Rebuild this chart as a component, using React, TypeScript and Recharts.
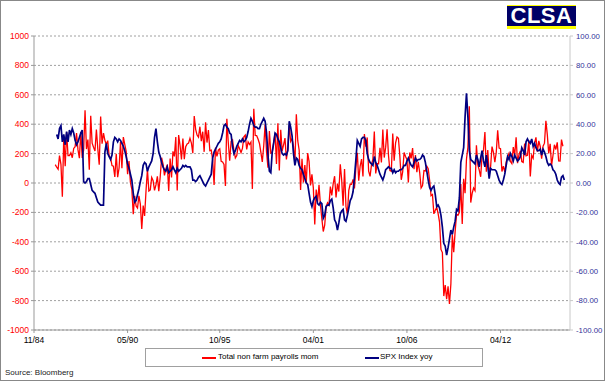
import { CartesianGrid, Line, LineChart, XAxis, YAxis } from 'recharts'

// month slots counted from 11/84; payrolls start Jan 1986
const payrollsStart = 15
const payrolls = [
  125, 107, 94, 187, 127, -94, 318, 114, 347, 186, 186, 205,
  172, 235, 247, 339, 227, 169, 347, 171, 225, 495, 231, 296,
  91, 457, 271, 243, 218, 364, 232, 124, 452, 268, 339, 290,
  263, 288, 183, 171, 119, 115, 41, 199, 40, 102, 279, 100,
  312, 263, 216, 60, 149, 4, -44, -213, -88, -156, -170, -87,
  -143, -313, -154, -224, -53, 92, -54, -47, 38, 16, -50, -13,
  45, -56, 41, 172, 128, 52, 96, 125, -54, 166, 38, 215,
  181, 312, -51, 326, 255, 161, 302, 162, 247, 266, 271, 304,
  272, 203, 456, 365, 326, 312, 383, 285, 349, 212, 413, 275,
  360, 220, 224, 159, -14, 240, 181, 224, 233, 148, 143, 126,
  -20, 437, 277, 151, 284, 293, 223, 171, 187, 256, 233, 207,
  235, 314, 326, 229, 280, 262, 279, -40, 505, 324, 323, 299,
  269, 209, 144, 252, 400, 209, 104, 354, 203, 207, 277, 338,
  129, 406, 86, 362, 219, 260, 305, 160, 234, 393, 283, 301,
  247, 133, 467, 288, 223, -47, 164, 4, 122, 1, 204, 145,
  -16, 59, -33, -282, -44, -127, -13, -150, -243, -330, -287, -163,
  -135, -151, -24, -84, -4, 46, -99, -4, -58, 128, 19, -154,
  95, -160, -211, -50, -7, -9, 24, -37, 104, 206, 16, 114,
  163, 45, 333, 247, 310, 80, 45, 123, 163, 350, 65, 131,
  131, 240, 140, 363, 173, 244, 366, 187, 84, 80, 336, 151,
  273, 313, 304, 182, 22, 76, 207, 180, 161, 4, 208, 167,
  238, 94, 190, 73, 144, 71, -34, -18, 85, 82, 114, 97,
  19, -86, -78, -210, -185, -165, -209, -266, -452, -473, -769, -695,
  -791, -703, -823, -686, -351, -470, -329, -212, -219, -200, -7, -279,
  28, -69, 163, 243, 522, -133, -70, -34, -52, 257, 123, 88,
  42, 188, 225, 346, 77, 225, 69, 110, 248, 209, 141, 209,
  358, 237, 233, 78, 115, 76, 143, 177, 203, 146, 132, 244,
  190, 311, 135, 192, 218, 146, 140, 269, 185, 189, 291, 45,
  187, 168, 272, 310, 213, 286, 249, 165, 251, 271, 423, 329,
  201, 266, 119, 187, 260, 228, 277, 150, 149, 295, 250,
]

const spxStart = 16
const spxYoy = [
  33, 30, 37, 39, 28, 33, 26, 35, 28, 36,
  33, 37, 34, 29, 26, 28, 31, 34, 36, 1,
  0, 1, 3, 3, -1, -5, -6, -7, -10, -13,
  -14, -15, -15, -15, 21, 27, 20, 18, 16, 19,
  28, 31, 30, 28, 30, 29, 27, 25, 22, 18,
  13, 10, 6, 2, -7, -13, -12, -8, -4, 1,
  5, 12, 14, 13, 8, 11, 13, 15, 20, 31,
  37, 28, 21, 18, 14, 11, 9, 8, 11, 7,
  8, 9, 11, 9, 7, 10, 8, 9, 10, 12,
  11, 12, 11, 11, 11, 9, 2, 2, 1, 2,
  4, 5, 3, 1, -1, -2, 0, 2, 4, 6,
  17, 21, 23, 25, 27, 28, 30, 34, 39, 40,
  38, 37, 34, 33, 25, 20, 22, 25, 27, 29,
  28, 30, 28, 29, 31, 35, 40, 44, 42, 39,
  38, 38, 37, 37, 40, 42, 44, 42, 34, 19,
  8, 7, 21, 27, 34, 33, 30, 28, 24, 20,
  19, 20, 19, 22, 42, 38, 32, 20, 12, 17,
  16, 12, 10, 9, 6, 3, 0, -1, -7, -13,
  -16, -12, -10, -9, -14, -15, -13, -14, -24, -22,
  -16, -15, -15, -12, -11, -17, -25, -27, -32, -27,
  -21, -19, -18, -25, -26, -22, -17, -12, -10, -6,
  4, 16, 29, 27, 25, 30, 31, 31, 29, 20,
  16, 14, 13, 12, 18, 14, 12, 9, 6, 4,
  2, 5, 9, 10, 11, 10, 10, 7, 9, 7,
  8, 8, 9, 9, 10, 12, 12, 15, 17, 14,
  12, 11, 14, 17, 15, 16, 16, 17, 19, 18,
  14, 8, 2, -3, -5, -3, -2, -8, -16, -15,
  -17, -22, -30, -41, -43, -49, -44, -38, -32, -35,
  -30, -26, -18, -19, -10, 14, 19, 24, 45, 61,
  45, 22, 16, 15, 14, 13, 19, 16, 11, 17,
  22, 15, 11, 19, 12, 3, 10, 9, 9, 9,
  8, 5, 2, 0, -1, 2, 6, 12, 18, 16,
  20, 18, 15, 19, 17, 15, 16, 18, 24, 22,
  19, 28, 30, 28, 27, 30, 25, 27, 24, 22,
  22, 23, 19, 23, 21, 18, 14, 12, 13, 12,
  9, 8, 6, 2, 0, -1, 4, 5, 2,
]

const xMax = 378
const xTicks = [0, 66, 131, 197, 263, 329]
const xLabels = ['11/84', '05/90', '10/95', '04/01', '10/06', '04/12']
const leftTicks = [-1000, -800, -600, -400, -200, 0, 200, 400, 600, 800, 1000]
const rightTicks = [-100, -80, -60, -40, -20, 0, 20, 40, 60, 80, 100]

const lastSlot = Math.max(payrollsStart + payrolls.length, spxStart + spxYoy.length) - 1
const rows: { k: number; nfp: number | null; spx: number | null }[] = []
for (let k = payrollsStart; k <= lastSlot; k++) {
  rows.push({
    k,
    nfp: payrolls[k - payrollsStart] ?? null,
    spx: spxYoy[k - spxStart] ?? null,
  })
}

const font = "'Liberation Sans', Arial, sans-serif"

export default function App() {
  return (
    <div style={{ position: 'absolute', left: 0, top: 0, width: 605, height: 381, background: '#fff', fontFamily: font }}>
      <LineChart width={605} height={381} data={rows} margin={{ top: 36, right: 0, bottom: 0, left: 0 }}>
        <CartesianGrid yAxisId="left" vertical={false} stroke="#a0a0a0" strokeDasharray="2 2" />
        <XAxis
          dataKey="k"
          type="number"
          domain={[0, xMax]}
          ticks={xTicks}
          tickFormatter={(v: number) => xLabels[xTicks.indexOf(v)] ?? ''}
          height={51}
          stroke="#999"
          tickSize={3}
          tickMargin={4}
          tick={{ fontSize: 8.5, fill: '#000', fontFamily: font }}
        />
        <YAxis
          yAxisId="left"
          orientation="left"
          width={34}
          domain={[-1000, 1000]}
          ticks={leftTicks}
          interval={0}
          stroke="#999"
          tickSize={3}
          tickMargin={2}
          tick={{ fontSize: 8.5, fill: '#ff0000', fontFamily: font }}
        />
        <YAxis
          yAxisId="right"
          orientation="right"
          width={35}
          domain={[-100, 100]}
          ticks={rightTicks}
          interval={0}
          tickFormatter={(v: number) => v.toFixed(2)}
          stroke="#c8c8c8"
          tickSize={3}
          tickMargin={3}
          tick={{ fontSize: 7.8, fill: '#333399', fontFamily: font }}
        />
        <Line
          yAxisId="left"
          dataKey="nfp"
          type="linear"
          stroke="#ff0000"
          strokeWidth={1.3}
          dot={false}
          isAnimationActive={false}
        />
        <Line
          yAxisId="right"
          dataKey="spx"
          type="linear"
          stroke="#000080"
          strokeWidth={1.7}
          dot={false}
          isAnimationActive={false}
        />
      </LineChart>

      <div
        style={{
          position: 'absolute', left: 145, top: 348, width: 338, height: 19,
          boxSizing: 'border-box', border: '1px solid #a0a0a0', background: '#fff', fontSize: 8,
        }}
      >
        <div style={{ position: 'absolute', left: 56, top: 8, width: 14, height: 2, background: '#ff0000' }} />
        <span style={{ position: 'absolute', left: 72, top: 3, whiteSpace: 'nowrap' }}>Total non farm payrolls mom</span>
        <div style={{ position: 'absolute', left: 219, top: 8, width: 14, height: 2, background: '#000080' }} />
        <span style={{ position: 'absolute', left: 234, top: 3, whiteSpace: 'nowrap' }}>SPX Index yoy</span>
      </div>

      <div style={{ position: 'absolute', left: 5, top: 368, fontSize: 8, color: '#222' }}>Source: Bloomberg</div>

      <div
        style={{
          position: 'absolute', left: 507, top: 5, width: 69, height: 24, boxSizing: 'border-box',
          background: '#000066', borderTop: '1px solid #ffff00', borderBottom: '3px solid #ffff00',
          color: '#fff', fontFamily: font, fontWeight: 700, fontSize: 22,
          lineHeight: '20px', textAlign: 'center', letterSpacing: 0.5,
        }}
      >
        CLSA
      </div>

      <div
        style={{
          position: 'absolute', left: 0, top: 0, width: 605, height: 381, boxSizing: 'border-box',
          border: '1px solid #888', pointerEvents: 'none',
        }}
      />
    </div>
  )
}
